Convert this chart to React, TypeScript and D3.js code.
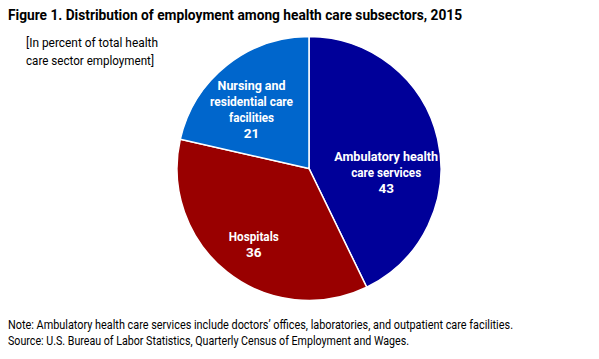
import React from 'react';
import * as d3 from 'd3';

const categories = ['Ambulatory health care services', 'Hospitals', 'Nursing and residential care facilities'];
// slice shares; labels show the published rounded values
const shares = [42.8, 35.75, 21.45];
const labelValues = [43, 36, 21];
const labelLines = [
  ['Ambulatory health', 'care services'],
  ['Hospitals'],
  ['Nursing and', 'residential care', 'facilities'],
];
const colors = ['#000099', '#990000', '#0066cc'];
// nudges from the centroid, in px
const labelNudge = [[0, 22], [-6, 14], [-8, 3]];

const FONT = 'Roboto, "DejaVu Sans Condensed", Arial, sans-serif';

// measured widths of text lines in the reference (condensed face)
const fitWidth: Record<string, number> = {
  'Ambulatory health': 104,
  'care services': 70,
  'Hospitals': 50,
  'Nursing and': 68,
  'residential care': 83,
  'facilities': 45,
};

export default function App() {
  const width = 599;
  const height = 359;
  const cx = 309;
  const cy = 168.5;
  const r = 132;

  const pie = d3.pie<number>().sort(null).value(d => d);
  const arcs = pie(shares);
  const arc = d3.arc<d3.PieArcDatum<number>>().innerRadius(0).outerRadius(r);
  const labelArc = d3.arc<d3.PieArcDatum<number>>().innerRadius(r * 0.6).outerRadius(r * 0.6);

  return (
    <svg width={width} height={height} style={{ position: 'absolute', left: 0, top: 0, fontFamily: FONT }}>
      <rect width={width} height={height} fill="#fff" />
      <text x={8} y={20} fontSize={15.5} fontWeight="bold" fill="#000" textLength={454} lengthAdjust="spacingAndGlyphs">
        Figure 1. Distribution of employment among health care subsectors, 2015
      </text>
      <text x={26} y={47} fontSize={13.5} fill="#000" textLength={132} lengthAdjust="spacingAndGlyphs">[In percent of total health</text>
      <text x={26} y={65} fontSize={13.5} fill="#000" textLength={128} lengthAdjust="spacingAndGlyphs">care sector employment]</text>

      <g transform={`translate(${cx},${cy})`}>
        {arcs.map((a, i) => (
          <path key={categories[i]} d={arc(a) || ''} fill={colors[i]} stroke="#fff" strokeWidth={1.5} />
        ))}
        {arcs.map((a, i) => {
          const [lx, ly] = labelArc.centroid(a);
          const lines = [...labelLines[i], String(labelValues[i])];
          const x = lx + labelNudge[i][0];
          const y0 = ly + labelNudge[i][1] - ((lines.length - 1) * 16) / 2;
          return (
            <g key={i}>
              {lines.map((l, j) => (
                <text
                  key={j}
                  x={x}
                  y={y0 + j * 16}
                  dy="0.35em"
                  textAnchor="middle"
                  fontSize={13.5}
                  fontWeight="bold"
                  fill="#fff"
                  textLength={fitWidth[l]}
                  lengthAdjust={fitWidth[l] ? 'spacingAndGlyphs' : undefined}
                >
                  {l}
                </text>
              ))}
            </g>
          );
        })}
      </g>

      <text x={8} y={329} fontSize={13.5} fill="#000" textLength={505} lengthAdjust="spacingAndGlyphs">
        Note: Ambulatory health care services include doctors’ offices, laboratories, and outpatient care facilities.
      </text>
      <text x={8} y={345} fontSize={13.5} fill="#000" textLength={401} lengthAdjust="spacingAndGlyphs">
        Source: U.S. Bureau of Labor Statistics, Quarterly Census of Employment and Wages.
      </text>
    </svg>
  );
}
